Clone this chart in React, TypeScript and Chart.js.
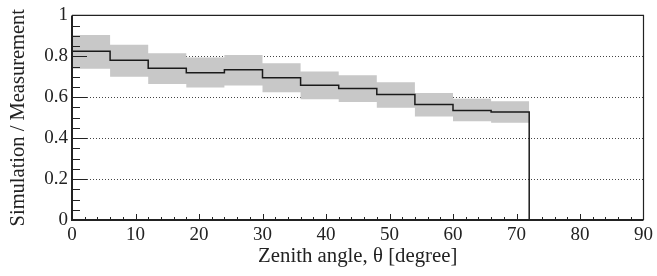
import React, { useEffect, useRef } from "react";
import { Chart, registerables } from "chart.js";

Chart.register(...registerables);

// Bin edges (degrees) of the zenith-angle histogram
const binEdges = [0, 6, 12, 18, 24, 30, 36, 42, 48, 54, 60, 66, 72];
// Simulation / Measurement ratio per bin
const ratio = [0.825, 0.781, 0.742, 0.72, 0.734, 0.695, 0.659, 0.643, 0.613, 0.565, 0.535, 0.528];
// Uncertainty band per bin
const bandHigh = [0.904, 0.857, 0.815, 0.794, 0.807, 0.766, 0.726, 0.708, 0.673, 0.621, 0.593, 0.58];
const bandLow = [0.739, 0.7, 0.665, 0.648, 0.657, 0.624, 0.59, 0.577, 0.549, 0.506, 0.483, 0.475];

const xTickValues = [0, 10, 20, 30, 40, 50, 60, 70, 80, 90];
const yTickValues = [0, 0.2, 0.4, 0.6, 0.8, 1];
const xMinorStep = 2;
const yMinorStep = 0.05;

const FONT = "'Liberation Serif', 'Times New Roman', serif";

function stepPoints(vals: number[]) {
  const pts = vals.map((v, i) => ({ x: binEdges[i], y: v }));
  pts.push({ x: binEdges[binEdges.length - 1], y: vals[vals.length - 1] });
  return pts;
}

const rootFrame = {
  id: "rootFrame",
  afterDraw(chart: any) {
    const { ctx, chartArea, scales } = chart;
    const { left, right, top, bottom } = chartArea;
    const xs = scales.x;
    const ys = scales.y;
    ctx.save();
    ctx.strokeStyle = "#222";
    ctx.lineWidth = 1;
    const nY = Math.round((ys.max - ys.min) / yMinorStep);
    for (let i = 1; i < nY; i++) {
      const v = ys.min + i * yMinorStep;
      const py = Math.round(ys.getPixelForValue(v)) + 0.5;
      const major = i % 4 === 0;
      ctx.beginPath();
      ctx.moveTo(left, py);
      ctx.lineTo(left + (major ? 15 : 8), py);
      ctx.stroke();
    }
    const nX = Math.round((xs.max - xs.min) / xMinorStep);
    for (let i = 1; i < nX; i++) {
      const v = xs.min + i * xMinorStep;
      const px = Math.round(xs.getPixelForValue(v)) + 0.5;
      const major = i % 5 === 0;
      ctx.beginPath();
      ctx.moveTo(px, bottom);
      ctx.lineTo(px, bottom - (major ? 6 : 3));
      ctx.stroke();
    }
    ctx.lineWidth = 1.2;
    ctx.beginPath();
    ctx.moveTo(left, top);
    ctx.lineTo(right, top);
    ctx.lineTo(right, bottom);
    ctx.stroke();
    ctx.lineWidth = 2;
    ctx.beginPath();
    ctx.moveTo(left, top);
    ctx.lineTo(left, bottom);
    ctx.lineTo(right, bottom);
    ctx.stroke();
    ctx.restore();
  },
};

export default function App() {
  const ref = useRef<HTMLCanvasElement | null>(null);

  useEffect(() => {
    if (!ref.current) return;
    const chart = new Chart(ref.current, {
      type: "line",
      data: {
        datasets: [
          {
            label: "band high",
            data: stepPoints(bandHigh),
            stepped: "before",
            borderWidth: 0,
            borderColor: "rgba(0,0,0,0)",
            backgroundColor: "#c8c8c8",
            pointRadius: 0,
            fill: "+1",
            order: 2,
          },
          {
            label: "band low",
            data: stepPoints(bandLow),
            stepped: "before",
            borderWidth: 0,
            borderColor: "rgba(0,0,0,0)",
            backgroundColor: "#c8c8c8",
            pointRadius: 0,
            fill: false,
            order: 2,
          },
          {
            label: "ratio",
            data: [...stepPoints(ratio), { x: binEdges[binEdges.length - 1], y: 0 }],
            stepped: "before",
            borderWidth: 1.5,
            borderColor: "#1a1a1a",
            pointRadius: 0,
            fill: false,
            order: 0,
          },
        ],
      },
      options: {
        animation: false,
        responsive: false,
        maintainAspectRatio: false,
        layout: { padding: { top: 8, right: 10, left: 0, bottom: 0 } },
        plugins: {
          legend: { display: false },
          tooltip: { enabled: false },
        },
        scales: {
          x: {
            type: "linear",
            min: 0,
            max: 90,
            afterBuildTicks: (s: any) => {
              s.ticks = xTickValues.map((v) => ({ value: v }));
            },
            afterFit: (s: any) => {
              s.height = 56;
            },
            ticks: {
              font: { family: FONT, size: 19 },
              color: "#222",
              padding: 4,
              maxRotation: 0,
              autoSkip: false,
              callback: (v: any) => String(v),
            },
            grid: { display: false, drawTicks: false },
            border: { display: false },
            title: {
              display: true,
              text: "Zenith angle, θ [degree]",
              font: { family: FONT, size: 20.8 },
              color: "#222",
              padding: { top: 0, bottom: 7 },
            },
          },
          y: {
            type: "linear",
            min: 0,
            max: 1,
            afterBuildTicks: (s: any) => {
              s.ticks = yTickValues.map((v) => ({ value: v }));
            },
            afterFit: (s: any) => {
              s.width = 72;
            },
            ticks: {
              font: { family: FONT, size: 19 },
              color: "#222",
              padding: 4,
              autoSkip: false,
              callback: (v: any) => String(v),
            },
            grid: {
              drawTicks: false,
              lineWidth: 1,
              color: (c: any) =>
                c.tick && (c.tick.value === 0 || c.tick.value === 1) ? "rgba(0,0,0,0)" : "#444",
            },
            border: { display: false, dash: [1, 2] },
            title: {
              display: true,
              text: "Simulation / Measurement",
              font: { family: FONT, size: 20.5 },
              color: "#222",
              padding: { top: 6, bottom: 0 },
            },
          },
        },
      },
      plugins: [rootFrame],
    });
    return () => chart.destroy();
  }, []);

  return (
    <div style={{ position: "fixed", left: 0, top: 0, width: 657, height: 276, background: "#fff" }}>
      <canvas ref={ref} width={657} height={276} style={{ width: 657, height: 276, display: "block" }} />
    </div>
  );
}
